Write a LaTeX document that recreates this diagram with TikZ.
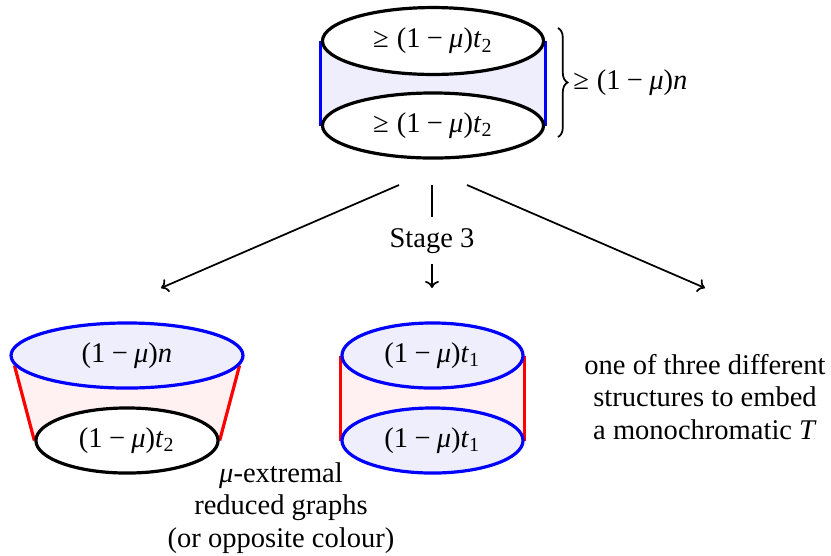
\documentclass[tikz,border=0pt]{standalone}
\usepackage{fontspec}
\newfontfamily\tfont{Liberation Serif}
\usetikzlibrary{shapes.geometric,decorations.pathreplacing,backgrounds,arrows.meta}
\definecolor{bluefill}{RGB}{238,238,253}
\definecolor{pinkfill}{RGB}{255,241,241}
\newcommand{\mx}{(1\hspace{0.22em}−\hspace{0.22em}\textit{μ})}
\newcommand{\geqs}{≥\hspace{0.28em}}
\newcommand{\sbs}[1]{\textsubscript{#1}}
\begin{document}
\begin{tikzpicture}[x=0.375pt,y=-0.375pt, font=\tfont\fontsize{10.7}{12.2}\selectfont,
  blk/.style={ellipse, draw=black, line width=1.2pt, fill=white, inner sep=0pt, minimum height=24.4pt},
  blu/.style={ellipse, draw=blue, line width=1.2pt, fill=bluefill, inner sep=0pt, minimum height=24.4pt},
  bside/.style={draw=blue, line width=1.2pt},
  rside/.style={draw=red, line width=1.2pt},
  conn/.style={line width=0.65pt},
  tip/.style={-{To[length=2.6pt,width=5.2pt]}},
  lbl/.style={align=center, inner sep=0pt}]
\useasboundingbox (0,0) rectangle (831,555);
% top cylinder
\node[blk, minimum width=82.9pt, minimum height=25.1pt] (ta) at (433,41) {\geqs\mx\textit{t}\sbs{2}};
\node[blk, minimum width=82.9pt] (tb) at (433,125.5) {\geqs\mx\textit{t}\sbs{2}};
\begin{scope}[on background layer]
  \fill[bluefill] (ta.west) rectangle (tb.east);
  \draw[bside] (ta.west) -- (tb.west);
  \draw[bside] (ta.east) -- (tb.east);
\end{scope}
% brace
\coordinate (bt) at (558,28);
\coordinate (bb) at (558,137);
\draw[decorate, decoration={brace, amplitude=3.6pt}, line width=0.65pt] (bt) -- (bb)
  node[midway, anchor=west, xshift=5.4pt, inner sep=0pt] (bl) {\geqs\mx\textit{n}};
% arrows
\coordinate (a1s) at (399,185);
\coordinate (a1e) at (161,288);
\coordinate (a3s) at (467,185);
\coordinate (a3e) at (705,288);
\coordinate (ms) at (432,185);
\coordinate (me) at (432,288);
\node[inner xsep=0pt, inner ysep=3.9pt, text height=7.4pt, text depth=2.1pt] (stg) at (432,240.2) {Stage 3};
\draw[conn, tip] (a1s) -- (a1e);
\draw[conn, tip] (a3s) -- (a3e);
\draw[conn] (ms) -- (stg.north);
\draw[conn, tip] (stg.south) -- (me);
% bottom left
\node[blu, minimum width=87pt] (la) at (127,355.5) {\mx\textit{n}};
\node[blk, minimum width=68.3pt] (lb) at (127,440.5) {\mx\textit{t}\sbs{2}};
\begin{scope}[on background layer]
  \fill[pinkfill] (la.185) -- (lb.west) -- (lb.east) -- (la.355) -- cycle;
  \draw[rside] (la.185) -- (lb.west);
  \draw[rside] (la.355) -- (lb.east);
\end{scope}
% bottom middle
\node[blu, minimum width=67.9pt] (ma) at (432.5,355.5) {\mx\textit{t}\sbs{1}};
\node[blu, minimum width=67.9pt] (mb) at (432.5,440.5) {\mx\textit{t}\sbs{1}};
\begin{scope}[on background layer]
  \fill[pinkfill] (ma.west) rectangle (mb.east);
  \draw[rside] (ma.west) -- (mb.west);
  \draw[rside] (ma.east) -- (mb.east);
\end{scope}
% labels
\node[lbl] (lab1) at (281,508) {\textit{μ}-extremal\\reduced graphs\\(or opposite colour)};
\node[lbl] (lab2) at (705,397) {one of three different\\structures to embed\\a monochromatic \textit{T}};
\end{tikzpicture}
\end{document}
